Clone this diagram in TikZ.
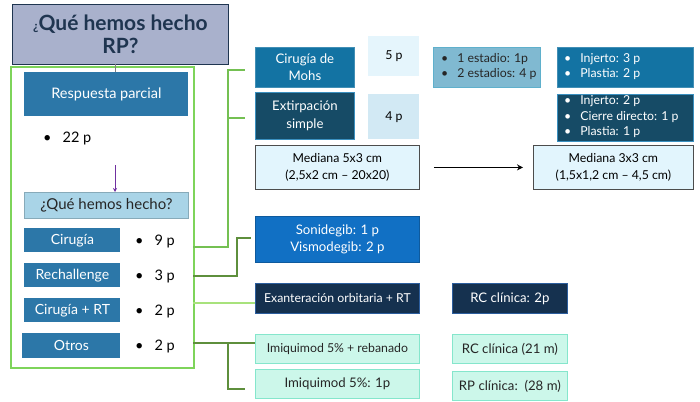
\documentclass[tikz,border=0pt]{standalone}
\usepackage{fontspec}
\setmainfont{Lato}
\usetikzlibrary{arrows.meta}
\definecolor{titlefill}{HTML}{A9B1CC}
\definecolor{navy}{HTML}{1F3550}
\definecolor{pgreen}{HTML}{7ED45A}
\definecolor{gA}{HTML}{74C052}
\definecolor{gB}{HTML}{5E8F3C}
\definecolor{gC}{HTML}{A8E27C}
\definecolor{midblue}{HTML}{2C77A8}
\definecolor{lightblue}{HTML}{A9D4E7}
\definecolor{mohsblue}{HTML}{1373A3}
\definecolor{darkteal}{HTML}{164B66}
\definecolor{edgeblue}{HTML}{3A90C0}
\definecolor{pale1}{HTML}{E5F5FC}
\definecolor{pale2}{HTML}{D2E9F4}
\definecolor{medfill}{HTML}{E2F5FD}
\definecolor{estfill}{HTML}{80B9D1}
\definecolor{estedge}{HTML}{5FB0CC}
\definecolor{brightblue}{HTML}{1170C4}
\definecolor{navybox}{HTML}{15314F}
\definecolor{navyedge}{HTML}{2C5E9E}
\definecolor{mint}{HTML}{CCF7EA}
\definecolor{mintedge}{HTML}{85E6CC}
\definecolor{arrowpurple}{HTML}{7030A0}
\tikzset{
  box/.style={draw, anchor=north west, inner sep=0pt, align=center, line width=0.8pt,
    font=\fontsize{12.3}{16.5}\selectfont},
  bigbox/.style={box, font=\fontsize{13.2}{17.5}\selectfont},
  whitebox/.style={box, text=white},
  sidebox/.style={box, text=white, draw=none, fill=midblue, font=\fontsize{14}{16}\selectfont},
  bul/.style={anchor=west, inner sep=0pt, font=\fontsize{14.5}{16}\selectfont, text=black},
  listtext/.style={anchor=west, inner sep=0pt, font=\fontsize{12.3}{15.5}\selectfont},
  conA/.style={draw=gA, line width=1.1pt},
  conB/.style={draw=gB, line width=1.1pt},
  conC/.style={draw=gC, line width=1.1pt},
}
\begin{document}
\begin{tikzpicture}[x=1pt,y=-1pt]
\useasboundingbox (0,0) rectangle (700,401);
% title and left panel
\node[box, fill=titlefill, draw=navy, text=navy, minimum width=216pt, minimum height=60pt,
  font=\fontsize{21}{23}\selectfont\bfseries] (title) at (12,4) {{\fontsize{12}{12}\selectfont ¿}Qué hemos hecho\\RP?};
\node[box, draw=pgreen, line width=2pt, minimum width=183pt, minimum height=301pt] (panel) at (10,66) {};
\node[box, text=white, draw=none, fill=midblue, minimum width=164pt, minimum height=44pt,
  font=\fontsize{14.5}{16}\selectfont] (resp) at (24,72) {Respuesta parcial};
\coordinate (tl) at (115,64);
\draw[gray, line width=0.6pt] (tl) -- (tl |- resp.north);
\node[bul] (b22) at (43,138) {\textbullet\hspace{11pt}22 p};
\coordinate (pa) at (115,165);
\node[box, fill=lightblue, draw=lightblue!80!black, minimum width=164pt, minimum height=26pt,
  font=\fontsize{15}{16}\selectfont, text=black!85] (qh) at (24,192) {¿Qué hemos hecho?};
\draw[arrowpurple, line width=1pt, -{Stealth[length=4pt,width=4pt]}] (pa) -- (pa |- qh.north);
\node[sidebox, minimum width=96pt, minimum height=24pt] (cir) at (24,228) {Cirugía};
\node[sidebox, minimum width=96pt, minimum height=24pt] (rech) at (24,263) {Rechallenge};
\node[sidebox, minimum width=96pt, minimum height=24pt] (crt) at (24,298) {Cirugía + RT};
\node[sidebox, minimum width=98pt, minimum height=25pt] (otros) at (22,333) {Otros};
\node[bul] (n9) at (135,241) {\textbullet\hspace{11pt}9 p};
\node[bul] (n3) at (135,276) {\textbullet\hspace{11pt}3 p};
\node[bul] (n2a) at (135,311) {\textbullet\hspace{11pt}2 p};
\node[bul] (n2b) at (135,346) {\textbullet\hspace{11pt}2 p};
% surgery column
\node[bigbox, text=white, fill=mohsblue, draw=mohsblue!80!white, minimum width=99pt, minimum height=40pt] (mohs) at (255,47) {Cirugía de\\Mohs};
\node[box, draw=none, fill=pale1, minimum width=51pt, minimum height=40pt] (p5) at (368,36) {5 p};
\node[bigbox, text=white, fill=darkteal, draw=edgeblue, minimum width=99pt, minimum height=47pt] (ext) at (255,92) {Extirpación\\simple};
\node[box, draw=none, fill=pale2, minimum width=51pt, minimum height=45pt] (p4) at (368,94) {4 p};
\node[box, fill=medfill, draw=black!70, minimum width=164pt, minimum height=44pt] (med1) at (255,145) {Mediana 5x3 cm\\(2,5x2 cm – 20x20)};
\node[box, fill=medfill, draw=black!70, minimum width=160pt, minimum height=44pt] (med2) at (533,145) {Mediana 3x3 cm\\(1,5x1,2 cm – 4,5 cm)};
\draw[line width=1.7pt, -{Stealth[length=6pt,width=6pt]}, shorten <=14pt, shorten >=10pt] (med1.east) -- (med2.west);
\node[box, fill=estfill, draw=estedge, minimum width=107pt, minimum height=40pt] (est) at (433,47) {};
\node[listtext, text=black!85] (estt) at (441,67)
  {\begin{tabular}{@{}l@{\hspace{9pt}}l@{}}\textbullet & 1 estadio: 1p\\ \textbullet & 2 estadios: 4 p\end{tabular}};
\node[box, fill=mohsblue, draw=mohsblue!80!white, minimum width=136pt, minimum height=40pt] (inj3) at (557,47) {};
\node[listtext, text=white] (inj3t) at (564,67)
  {\begin{tabular}{@{}l@{\hspace{9pt}}l@{}}\textbullet & Injerto: 3 p\\ \textbullet & Plastia: 2 p\end{tabular}};
\node[box, fill=darkteal, draw=edgeblue, minimum width=136pt, minimum height=47pt] (inj2) at (557,94) {};
\node[listtext, text=white] (inj2t) at (564,117)
  {\begin{tabular}{@{}l@{\hspace{9pt}}l@{}}\textbullet & Injerto: 2 p\\ \textbullet & Cierre directo: 1 p\\ \textbullet & Plastia: 1 p\end{tabular}};
% other rows
\node[bigbox, text=white, fill=brightblue, draw=brightblue!80!black, minimum width=164pt, minimum height=46pt] (soni) at (255,216) {Sonidegib: 1 p\\Vismodegib: 2 p};
\node[whitebox, fill=navybox, draw=navyedge, minimum width=164pt, minimum height=30pt] (exan) at (255,283) {Exanteración orbitaria + RT};
\node[bigbox, text=white, fill=navybox, draw=navyedge, minimum width=115pt, minimum height=30pt] (rc2) at (452,283) {RC clínica: 2p};
\node[box, fill=mint, draw=mintedge, minimum width=164pt, minimum height=29pt, text=black!85] (imq1) at (255,334) {Imiquimod 5\% + rebanado};
\node[bigbox, fill=mint, draw=mintedge, minimum width=115pt, minimum height=29pt, text=black!85] (rc21) at (452,334) {RC clínica (21 m)};
\node[bigbox, fill=mint, draw=mintedge, minimum width=164pt, minimum height=29pt, text=black!85] (imq2) at (255,369) {Imiquimod 5\%: 1p};
\node[bigbox, fill=mint, draw=mintedge, minimum width=115pt, minimum height=29pt, text=black!85] (rp28) at (452,371) {RP clínica:\ \ (28 m)};
% connectors
\coordinate (k1) at (193,247);
\coordinate (x1) at (228,0);
\draw[conA] (k1) -| (x1 |- 0,70) -- ([xshift=-10pt]mohs.west |- 0,70);
\draw[conA] (x1 |- 0,118) -- ([xshift=-10pt]ext.west |- 0,118);
\coordinate (k2) at (193,276);
\coordinate (x2) at (237,238);
\draw[conB] (k2) -| (x2) -- ([xshift=-4pt]soni.west |- x2);
\coordinate (k3) at (193,303);
\draw[conC] (k3) -- (k3 -| exan.west);
\coordinate (k4) at (193,343);
\coordinate (x4) at (228,389);
\draw[conB] (k4) -- (k4 -| imq1.west);
\draw[conB] (k4 -| x4) -- (x4) -- ([xshift=-10pt]imq2.west |- x4);
\end{tikzpicture}
\end{document}
